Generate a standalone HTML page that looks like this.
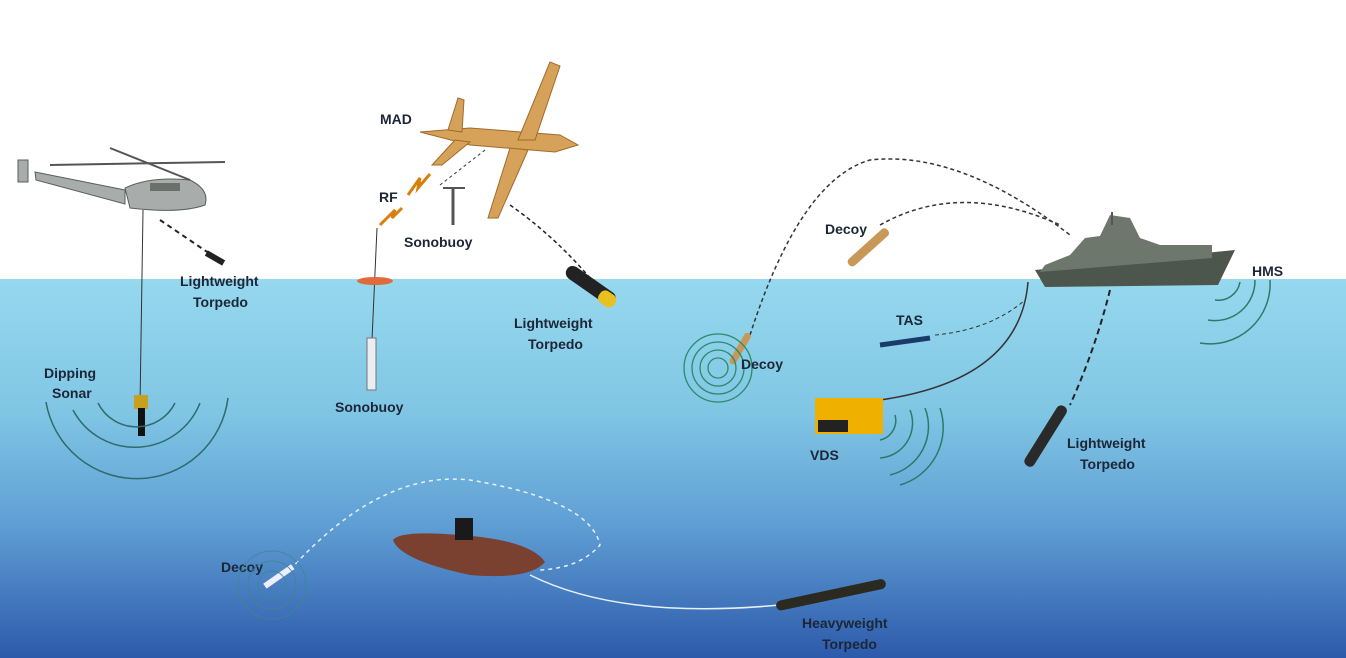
<!DOCTYPE html>
<html><head><meta charset="utf-8"><style>
html,body{margin:0;padding:0;width:1346px;height:658px;overflow:hidden;background:#fff}
svg text{font-family:"Liberation Sans",sans-serif;font-weight:bold;font-size:14px;fill:#1c2636}
</style></head><body>
<svg width="1346" height="658" viewBox="0 0 1346 658" xmlns="http://www.w3.org/2000/svg">
<defs>
<linearGradient id="w" x1="0" y1="0" x2="0" y2="1">
<stop offset="0" stop-color="#96d8ee"/>
<stop offset="0.35" stop-color="#80c6e4"/>
<stop offset="0.65" stop-color="#5f9ed4"/>
<stop offset="1" stop-color="#2d5aab"/>
</linearGradient>
</defs>
<rect width="1346" height="658" fill="#fff"/>
<rect y="279" width="1346" height="379" fill="url(#w)"/>
<!-- helicopter -->
<g fill="#a8acaa" stroke="#5a5f5c" stroke-width="1">
<path d="M125 188 Q150 176 190 180 Q210 190 205 205 Q180 214 130 208Z"/>
<path d="M125 190 L35 172 L36 180 L125 204Z"/>
<rect x="18" y="160" width="10" height="22"/>
</g>
<rect x="150" y="183" width="30" height="8" fill="#6b706d"/>
<line x1="50" y1="165" x2="225" y2="162" stroke="#555" stroke-width="2"/>
<line x1="110" y1="148" x2="190" y2="180" stroke="#555" stroke-width="2"/>
<line x1="143" y1="210" x2="140" y2="405" stroke="#333" stroke-width="1"/>
<path d="M160 220 L222 262" stroke="#222" stroke-width="2" stroke-dasharray="5 4"/>
<rect x="205" y="255" width="20" height="6" fill="#222" transform="rotate(30 215 258)"/>
<rect x="134" y="395" width="14" height="14" fill="#c8a020"/>
<rect x="138" y="408" width="7" height="28" fill="#111"/>
<g fill="none" stroke="#2e6b6a" stroke-width="1.5">
<path d="M98 403 A43 43 0 0 0 175 403"/>
<path d="M73 410 A70 70 0 0 0 200 403"/>
<path d="M46 402 A92 92 0 0 0 228 398"/>
</g>
<text x="180" y="286">Lightweight</text><text x="193" y="307">Torpedo</text>
<text x="44" y="378">Dipping</text><text x="52" y="398">Sonar</text>
<!-- aircraft -->
<g fill="#d6a25a" stroke="#a06a2a" stroke-width="1">
<path d="M420 132 L470 128 L560 135 L578 145 L555 152 L470 145Z"/>
<path d="M518 140 L550 62 L560 66 L535 140Z"/>
<path d="M510 148 L488 218 L498 218 L528 150Z"/>
<path d="M448 130 L458 98 L464 100 L462 132Z"/>
<path d="M455 140 L432 165 L442 165 L470 142Z"/>
</g>
<path d="M485 150 L440 185" stroke="#333" stroke-dasharray="3 3"/>
<path d="M510 205 Q560 240 600 290" stroke="#222" stroke-width="1.5" stroke-dasharray="4 3" fill="none"/>
<rect x="562" y="278" width="58" height="14" rx="7" fill="#222" transform="rotate(35 590 285)"/>
<rect x="600" y="290" width="18" height="14" rx="6" fill="#e8c020" transform="rotate(35 605 295)"/>
<text x="380" y="124">MAD</text>
<text x="379" y="202">RF</text>
<path d="M380 225 L395 210 L392 218 L402 208" stroke="#d68010" stroke-width="3" fill="none"/>
<path d="M408 195 L420 178 L418 188 L430 174" stroke="#d68010" stroke-width="3" fill="none"/>
<line x1="443" y1="188" x2="465" y2="188" stroke="#555" stroke-width="2"/>
<line x1="453" y1="188" x2="453" y2="225" stroke="#555" stroke-width="3"/>
<text x="404" y="247">Sonobuoy</text>
<line x1="377" y1="228" x2="372" y2="340" stroke="#333" stroke-width="1"/>
<ellipse cx="375" cy="281" rx="18" ry="4" fill="#e06a3a"/>
<rect x="367" y="338" width="9" height="52" fill="#e8eef2" stroke="#777"/>
<text x="335" y="412">Sonobuoy</text>
<text x="514" y="328">Lightweight</text><text x="528" y="349">Torpedo</text>
<!-- ship -->
<path d="M1035 270 L1235 250 L1218 285 L1045 287Z" fill="#4d564d"/>
<path d="M1045 265 L1070 255 L1085 238 L1100 236 L1110 215 L1130 218 L1140 238 L1160 245 L1212 245 L1212 258 L1040 272Z" fill="#6d776b"/>
<line x1="1112" y1="212" x2="1112" y2="225" stroke="#555" stroke-width="2"/>
<text x="1252" y="276">HMS</text>
<g fill="none" stroke="#2e7a6a" stroke-width="1.5">
<path d="M1240 282 A22 22 0 0 1 1215 300"/>
<path d="M1255 280 A40 40 0 0 1 1208 320"/>
<path d="M1270 280 A60 60 0 0 1 1200 343"/>
</g>
<path d="M750 335 Q800 180 870 160 Q960 150 1070 235" stroke="#333" stroke-width="1.5" stroke-dasharray="4 3" fill="none"/>
<path d="M880 225 Q960 180 1060 225" stroke="#333" stroke-width="1.5" stroke-dasharray="4 3" fill="none"/>
<rect x="842" y="243" width="52" height="9" rx="4" fill="#c89858" transform="rotate(-42 868 247)"/>
<text x="825" y="234">Decoy</text>
<rect x="722" y="345" width="35" height="7" rx="3" fill="#c89858" transform="rotate(-60 740 348)"/>
<g fill="none" stroke="#2a8a6a" stroke-width="1.3">
<circle cx="718" cy="368" r="10"/><circle cx="718" cy="368" r="18"/><circle cx="718" cy="368" r="26"/><circle cx="718" cy="368" r="34"/>
</g>
<text x="741" y="369">Decoy</text>
<text x="896" y="325">TAS</text>
<path d="M880 345 L930 338" stroke="#1a3a6a" stroke-width="5"/>
<path d="M935 335 Q990 330 1025 300" stroke="#333" stroke-dasharray="4 3" fill="none"/>
<path d="M1028 282 Q1020 380 880 400" stroke="#333" stroke-width="1.5" fill="none"/>
<rect x="815" y="398" width="68" height="36" fill="#f0b000"/>
<rect x="818" y="420" width="30" height="12" fill="#222"/>
<text x="810" y="460">VDS</text>
<g fill="none" stroke="#2a7a6a" stroke-width="1.5">
<path d="M895 415 A20 20 0 0 1 880 440"/>
<path d="M910 410 A35 35 0 0 1 880 458"/>
<path d="M925 408 A50 50 0 0 1 890 475"/>
<path d="M940 408 A60 60 0 0 1 900 485"/>
</g>
<path d="M1110 290 Q1095 350 1070 405" stroke="#222" stroke-width="2" stroke-dasharray="6 4" fill="none"/>
<rect x="1012" y="432" width="70" height="11" rx="5" fill="#2a2a2a" transform="rotate(-58 1045 438)"/>
<text x="1067" y="448">Lightweight</text><text x="1080" y="469">Torpedo</text>
<!-- submarine -->
<path d="M393 540 Q400 530 460 535 Q530 540 545 562 Q530 580 470 575 Q400 560 393 540Z" fill="#7a4030"/>
<rect x="455" y="518" width="18" height="22" fill="#1a1a1a"/>
<path d="M290 570 Q380 470 470 480 Q590 500 600 545 Q580 568 540 570" stroke="#e8f0f8" stroke-dasharray="4 4" fill="none" stroke-width="1.5"/>
<path d="M530 575 Q620 620 780 605" stroke="#e8f0f8" stroke-width="1.5" fill="none"/>
<rect x="775" y="590" width="112" height="10" rx="5" fill="#2a2a20" transform="rotate(-12 830 595)"/>
<text x="802" y="628">Heavyweight</text><text x="822" y="649">Torpedo</text>
<text x="221" y="572">Decoy</text>
<rect x="262" y="574" width="34" height="6" fill="#eef" transform="rotate(-35 278 577)"/>
<g fill="none" stroke="#3a8a8a" stroke-width="1" opacity="0.8">
<circle cx="272" cy="585" r="14"/><circle cx="272" cy="585" r="24"/><circle cx="272" cy="585" r="34"/>
</g>
</svg>
</body></html>
